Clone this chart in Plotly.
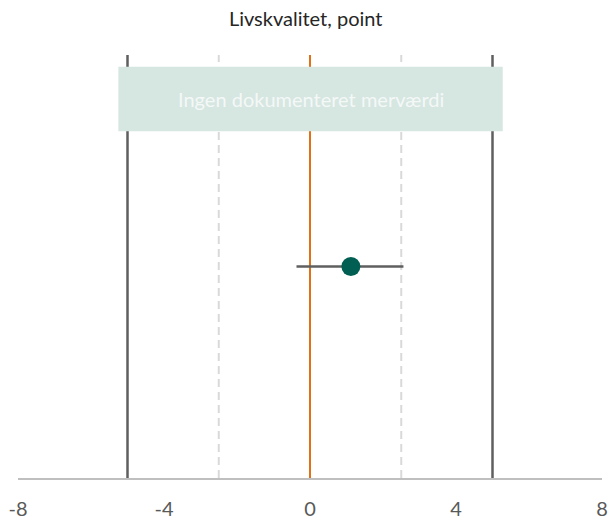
import plotly.graph_objects as go

# Effect estimate with confidence interval
outcome = ["Livskvalitet"]
estimate = [1.12]
ci_low = [-0.37]
ci_high = [2.56]

# Reference lines on the x axis
threshold_lines = [-5, 5]
minor_lines = [-2.5, 2.5]
null_line = [0]

# Category band
band_label = "Ingen dokumenteret merværdi"
band_x = [-5.25, 5.28]
band_y = [1.64, 1.945]

tick_vals = [-8, -4, 0, 4, 8]
tick_text = ["-8", "-4", "0", "4", "8"]

FONT = "Lato, 'Open Sans', sans-serif"
Y_POS = 1.0

fig = go.Figure()

shapes = []
for v in threshold_lines:
    shapes.append(dict(type="line", xref="x", yref="y", x0=v, x1=v, y0=0, y1=2,
                       line=dict(color="#5f5f5f", width=2.5), layer="below"))
for v in minor_lines:
    shapes.append(dict(type="line", xref="x", yref="y", x0=v, x1=v, y0=0, y1=2,
                       line=dict(color="#d9d9d9", width=2, dash="8px,5px"), layer="below"))
for v in null_line:
    shapes.append(dict(type="line", xref="x", yref="y", x0=v, x1=v, y0=0, y1=2,
                       line=dict(color="#e07116", width=2), layer="below"))
shapes.append(dict(type="rect", xref="x", yref="y", x0=band_x[0], x1=band_x[1],
                   y0=band_y[0], y1=band_y[1], fillcolor="#d6e6e1",
                   line=dict(width=0), layer="below"))
fig.update_layout(shapes=shapes)

fig.add_annotation(x=(band_x[0] + band_x[1]) / 2, y=(band_y[0] + band_y[1]) / 2,
                   text=band_label, showarrow=False,
                   font=dict(family=FONT, size=20, color="#f4f8f7"))

# Confidence interval
fig.add_trace(go.Scatter(
    x=[ci_low[0], ci_high[0]], y=[Y_POS, Y_POS], mode="lines",
    line=dict(color="#5f5f5f", width=2.5), hoverinfo="skip", showlegend=False))

# Point estimate
fig.add_trace(go.Scatter(
    x=estimate, y=[Y_POS], mode="markers", name=outcome[0],
    marker=dict(color="#005f52", size=19, line=dict(width=0)), showlegend=False))

fig.update_layout(
    width=609, height=521,
    margin=dict(l=18, r=7, t=55, b=43, autoexpand=False),
    paper_bgcolor="white", plot_bgcolor="white",
    title=dict(text="Livskvalitet, point", x=0.502, xanchor="center", y=0.963, yanchor="middle",
               font=dict(family=FONT, size=20, color="#262626")),
    xaxis=dict(range=[-8, 8], tickvals=tick_vals, ticktext=tick_text, automargin=False,
               showgrid=False, zeroline=False, showline=True, linecolor="#bfbfbf",
               linewidth=2, ticks="", tickfont=dict(family=FONT, size=20, color="#595959"),
               ticklabelstandoff=12),
    yaxis=dict(range=[0, 2], visible=False, showgrid=False, zeroline=False, automargin=False),
)

fig.write_html("out.html")
